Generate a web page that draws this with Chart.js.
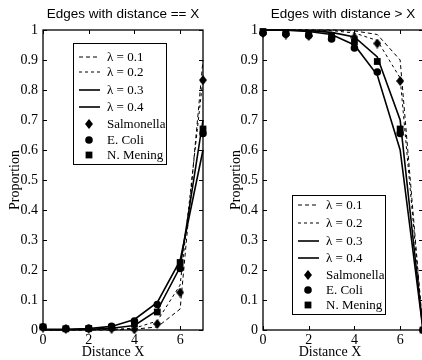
<!DOCTYPE html>
<html>
<head>
<meta charset="utf-8">
<script src="https://cdn.jsdelivr.net/npm/chart.js@4/dist/chart.umd.min.js"></script>
<style>
html, body { margin: 0; padding: 0; background: #fff; overflow: hidden; width: 422px; height: 360px; }
.panel { position: absolute; top: 0; }
</style>
</head>
<body>
<div class="panel" style="left:0"><canvas id="eq-chart" width="211" height="360"></canvas></div>
<div class="panel" style="left:211px"><canvas id="gt-chart" width="213" height="360"></canvas></div>
<script>
const distances = [0, 1, 2, 3, 4, 5, 6, 7];
const xTicks = [0, 2, 4, 6];
const yTicks = [0, 0.1, 0.2, 0.3, 0.4, 0.5, 0.6, 0.7, 0.8, 0.9, 1];
const yTickLabels = ['0', '0.1', '0.2', '0.3', '0.4', '0.5', '0.6', '0.7', '0.8', '0.9', '1'];
const lambdaLabels = ['λ = 0.1', 'λ = 0.2', 'λ = 0.3', 'λ = 0.4'];
const organismLabels = ['Salmonella', 'E. Coli', 'N. Mening'];

// distance == X
const eqLambda01 = [0, 0, 0, 0, 0.003, 0.01, 0.07, 0.90];
const eqLambda02 = [0, 0, 0.001, 0.002, 0.006, 0.03, 0.15, 0.84];
const eqLambda03 = [0.001, 0.001, 0.002, 0.006, 0.015, 0.065, 0.21, 0.70];
const eqLambda04 = [0.002, 0.002, 0.005, 0.012, 0.035, 0.092, 0.232, 0.60];
const eqSalmonella = [0.008, 0.004, 0.004, 0.004, 0.002, 0.02, 0.125, 0.833];
const eqEColi = [0.01, 0.004, 0.006, 0.012, 0.03, 0.085, 0.205, 0.655];
const eqNMening = [0.01, 0.004, 0.005, 0.009, 0.02, 0.06, 0.225, 0.67];

// distance > X
const gtLambda01 = [1, 1, 1, 1, 0.997, 0.985, 0.90, 0];
const gtLambda02 = [1, 1, 1, 0.998, 0.99, 0.965, 0.84, 0];
const gtLambda03 = [1, 1, 0.998, 0.992, 0.977, 0.91, 0.70, 0];
const gtLambda04 = [1, 0.999, 0.995, 0.985, 0.95, 0.85, 0.60, 0];
const gtSalmonella = [0.99, 0.985, 0.98, 0.977, 0.975, 0.955, 0.83, 0];
const gtEColi = [0.99, 0.987, 0.982, 0.97, 0.94, 0.86, 0.655, 0];
const gtNMening = [0.995, 0.992, 0.988, 0.98, 0.96, 0.895, 0.67, 0];

const SERIF = '"Liberation Serif", "Times New Roman", serif';
const SANS = '"Liberation Sans", Arial, sans-serif';

function makeDiamond(w, h) {
    const c = document.createElement('canvas');
    c.width = w;
    c.height = h;
    const g = c.getContext('2d');
    g.fillStyle = '#000';
    g.beginPath();
    g.moveTo(w / 2, 0);
    g.lineTo(w, h / 2);
    g.lineTo(w / 2, h);
    g.lineTo(0, h / 2);
    g.closePath();
    g.fill();
    return c;
}
const diamond = makeDiamond(8, 10);

function pts(values) {
    return distances.map((x, i) => ({ x: x, y: values[i] }));
}

function lineSet(label, values, dash, width) {
    return {
        label: label,
        data: pts(values),
        borderColor: '#000',
        borderWidth: width,
        borderDash: dash,
        pointRadius: 0,
        fill: false,
        tension: 0,
        clip: false,
        order: 2
    };
}

function markerSet(label, values, style, radius) {
    return {
        label: label,
        data: pts(values),
        showLine: false,
        pointStyle: style,
        pointRadius: radius,
        pointBackgroundColor: '#000',
        pointBorderColor: '#000',
        pointBorderWidth: 0,
        clip: false,
        order: 1
    };
}

function buildDatasets(l1, l2, l3, l4, s, e, n) {
    return [
        lineSet(lambdaLabels[0], l1, [4, 3], 1),
        lineSet(lambdaLabels[1], l2, [3, 3], 1),
        lineSet(lambdaLabels[2], l3, [], 1.6),
        lineSet(lambdaLabels[3], l4, [], 1.6),
        markerSet(organismLabels[0], s, diamond, 5),
        markerSet(organismLabels[1], e, 'circle', 3.8),
        markerSet(organismLabels[2], n, 'rect', 4.8)
    ];
}

// box, inward ticks, x label and in-axes legend
const matlabFrame = {
    id: 'matlabFrame',
    beforeDatasetsDraw(chart, args, opts) {
        const { ctx, chartArea: a, scales } = chart;
        const len = 4;
        ctx.save();
        ctx.strokeStyle = '#000';
        ctx.lineWidth = 1.3;
        ctx.strokeRect(a.left, a.top, a.right - a.left, a.bottom - a.top);
        ctx.lineWidth = 1;
        ctx.beginPath();
        xTicks.forEach(v => {
            const px = Math.round(scales.x.getPixelForValue(v)) + 0.5;
            ctx.moveTo(px, a.bottom); ctx.lineTo(px, a.bottom - len);
            ctx.moveTo(px, a.top); ctx.lineTo(px, a.top + len);
        });
        yTicks.forEach(v => {
            const py = Math.round(scales.y.getPixelForValue(v)) + 0.5;
            ctx.moveTo(a.left, py); ctx.lineTo(a.left + len, py);
            ctx.moveTo(a.right, py); ctx.lineTo(a.right - len, py);
        });
        ctx.stroke();

        ctx.fillStyle = '#000';
        ctx.font = '14px ' + SERIF;
        ctx.textAlign = 'center';
        ctx.textBaseline = 'middle';
        ctx.fillText('Distance X', opts.xLabelX, 352);
        ctx.restore();
    },
    afterDatasetsDraw(chart, args, opts) {
        const { ctx } = chart;
        const lg = opts.legend;
        ctx.save();
        ctx.fillStyle = '#fff';
        ctx.fillRect(lg.x, lg.y, lg.w, lg.h);
        ctx.strokeStyle = '#000';
        ctx.lineWidth = 1;
        ctx.strokeRect(lg.x + 0.5, lg.y + 0.5, lg.w, lg.h);

        ctx.font = '13px ' + SERIF;
        ctx.textAlign = 'left';
        ctx.textBaseline = 'middle';
        chart.data.datasets.forEach((ds, i) => {
            const cy = lg.y + lg.rows[i];
            const cx = lg.x + 16;
            ctx.fillStyle = '#000';
            ctx.strokeStyle = '#000';
            if (ds.showLine === false) {
                if (ds.pointStyle === 'circle') {
                    ctx.beginPath();
                    ctx.arc(cx, cy, ds.pointRadius, 0, Math.PI * 2);
                    ctx.fill();
                } else if (ds.pointStyle === 'rect') {
                    const s = ds.pointRadius * Math.SQRT1_2;
                    ctx.fillRect(cx - s, cy - s, 2 * s, 2 * s);
                } else {
                    ctx.drawImage(ds.pointStyle, cx - ds.pointStyle.width / 2, cy - ds.pointStyle.height / 2);
                }
            } else {
                ctx.lineWidth = ds.borderWidth;
                ctx.setLineDash(ds.borderDash);
                ctx.beginPath();
                ctx.moveTo(lg.x + 6, cy);
                ctx.lineTo(lg.x + 27, cy);
                ctx.stroke();
                ctx.setLineDash([]);
            }
            ctx.fillText(ds.label, lg.x + 34, cy + 1);
        });
        ctx.restore();
    }
};

function makeChart(canvasId, title, datasets, cfg) {
    const ctx = document.getElementById(canvasId).getContext('2d');
    return new Chart(ctx, {
        type: 'line',
        data: { datasets: datasets },
        options: {
            responsive: false,
            animation: false,
            events: [],
            layout: {
                autoPadding: false,
                padding: { left: 0, right: cfg.padRight, top: 0, bottom: 0 }
            },
            scales: {
                x: {
                    type: 'linear',
                    min: 0,
                    max: 7,
                    afterBuildTicks: scale => { scale.ticks = xTicks.map(v => ({ value: v })); },
                    afterFit: scale => {
                        scale.height = 30;
                        scale.paddingLeft = 0;
                        scale.paddingRight = 0;
                    },
                    ticks: {
                        color: '#000',
                        padding: 2,
                        maxRotation: 0,
                        font: { family: SERIF, size: 14 },
                        callback: (value) => String(value)
                    },
                    grid: { display: false, drawTicks: false },
                    border: { display: false }
                },
                y: {
                    type: 'linear',
                    min: 0,
                    max: 1,
                    afterBuildTicks: scale => { scale.ticks = yTicks.map(v => ({ value: v })); },
                    afterFit: scale => { scale.width = cfg.yWidth; },
                    ticks: {
                        color: '#000',
                        padding: 5,
                        font: { family: SERIF, size: 14 },
                        callback: (value, index) => yTickLabels[index]
                    },
                    title: {
                        display: true,
                        text: 'Proportion',
                        color: '#000',
                        font: { family: SERIF, size: 14 },
                        padding: { top: cfg.yTitlePad, bottom: 0 }
                    },
                    grid: { display: false, drawTicks: false },
                    border: { display: false }
                }
            },
            plugins: {
                legend: { display: false },
                tooltip: { enabled: false },
                title: {
                    display: true,
                    text: title,
                    color: '#000',
                    fullSize: false,
                    font: { family: SANS, size: 13.5, weight: 'normal' },
                    padding: { top: 6, bottom: 7.8 }
                },
                matlabFrame: {
                    xLabelX: cfg.xLabelX,
                    legend: cfg.legend
                }
            }
        },
        plugins: [matlabFrame]
    });
}

makeChart('eq-chart', 'Edges with distance == X',
    buildDatasets(eqLambda01, eqLambda02, eqLambda03, eqLambda04, eqSalmonella, eqEColi, eqNMening),
    {
        padRight: 8,
        yWidth: 43,
        yTitlePad: 7,
        xLabelX: 113,
        legend: { x: 73, y: 43, w: 93, h: 121, rows: [14, 29, 47, 64, 81, 97, 112] }
    });

makeChart('gt-chart', 'Edges with distance > X',
    buildDatasets(gtLambda01, gtLambda02, gtLambda03, gtLambda04, gtSalmonella, gtEColi, gtNMening),
    {
        padRight: 1,
        yWidth: 52,
        yTitlePad: 17,
        xLabelX: 119,
        legend: { x: 81, y: 195, w: 93, h: 119, rows: [10, 28, 46, 63, 80, 95, 110] }
    });
</script>
</body>
</html>
